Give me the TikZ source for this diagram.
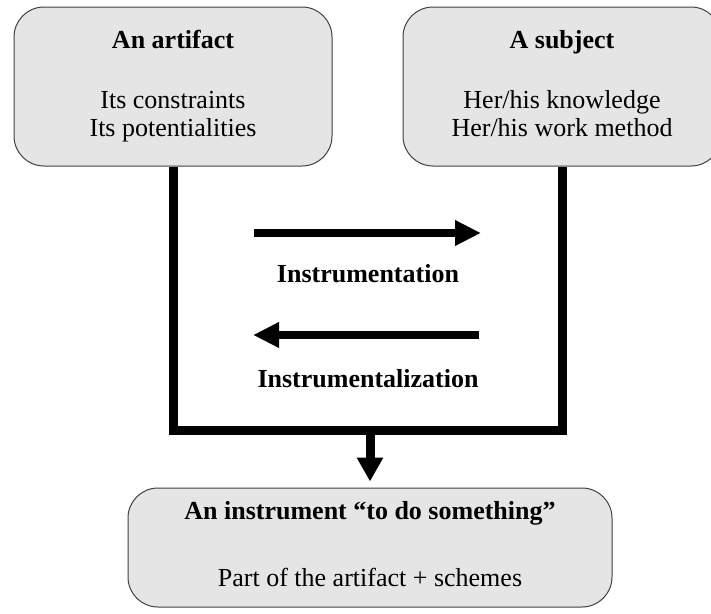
\documentclass[tikz,border=0pt]{standalone}
\usepackage{fontspec}
\setmainfont{Liberation Serif}
\usetikzlibrary{arrows.meta}
\begin{document}
\begin{tikzpicture}[x=1pt,y=-1pt,
  panel/.style={draw=black!75, line width=1pt, fill=black!10,
    rounded corners=30pt, inner sep=0pt},
  head/.style={font=\fontsize{26}{30}\selectfont\bfseries, inner sep=0pt, anchor=base},
  body/.style={font=\fontsize{26}{30}\selectfont, inner sep=0pt, anchor=base},
  link/.style={line width=9pt, line join=miter},
  flow/.style={line width=8pt, -{Triangle[length=26pt,width=24pt]}}
]
\clip (0,0) rectangle (711,613);
\fill[white] (0,0) rectangle (711,613);

% the three boxes
\node[panel, minimum width=318pt, minimum height=159pt] (artifact) at (173,86.5) {};
\node[panel, minimum width=318pt, minimum height=159pt] (subject) at (562,86.5) {};
\node[panel, minimum width=484pt, minimum height=119pt] (instrument) at (370,547.5) {};

% box texts
\node[head] (artifactTitle) at (173,48) {An artifact};
\node[body] (artifactA) at (173,108) {Its constraints};
\node[body] (artifactB) at (173,136) {Its potentialities};

\node[head] (subjectTitle) at (562,48) {A subject};
\node[body] (subjectA) at (562,108) {Her/his knowledge};
\node[body] (subjectB) at (562,136) {Her/his work method};

\node[head] (instrumentTitle) at (370,519) {An instrument “to do something”};
\node[body] (instrumentA) at (370,586) {Part of the artifact + schemes};

% the frame joining artifact and subject
\coordinate (joinL) at (173,430);
\draw[link] (artifact.south) -- (joinL) -- (joinL -| subject.south) -- (subject.south);

% arrow down to the instrument
\coordinate (joinM) at (370,430);
\draw[line width=9pt, -{Triangle[length=24pt,width=25pt]}]
  ([yshift=-4pt]joinM) -- ([yshift=6pt]instrument.north);

% the two processes
\coordinate (rs) at (254,233);
\coordinate (re) at (481,233);
\coordinate (ls) at (479,335);
\coordinate (le) at (253,335);
\draw[flow] (rs) -- (re);
\draw[flow] (ls) -- (le);
\node[head] (instrumentation) at (368,282) {Instrumentation};
\node[head] (instrumentalization) at (368,387) {Instrumentalization};
\end{tikzpicture}
\end{document}
